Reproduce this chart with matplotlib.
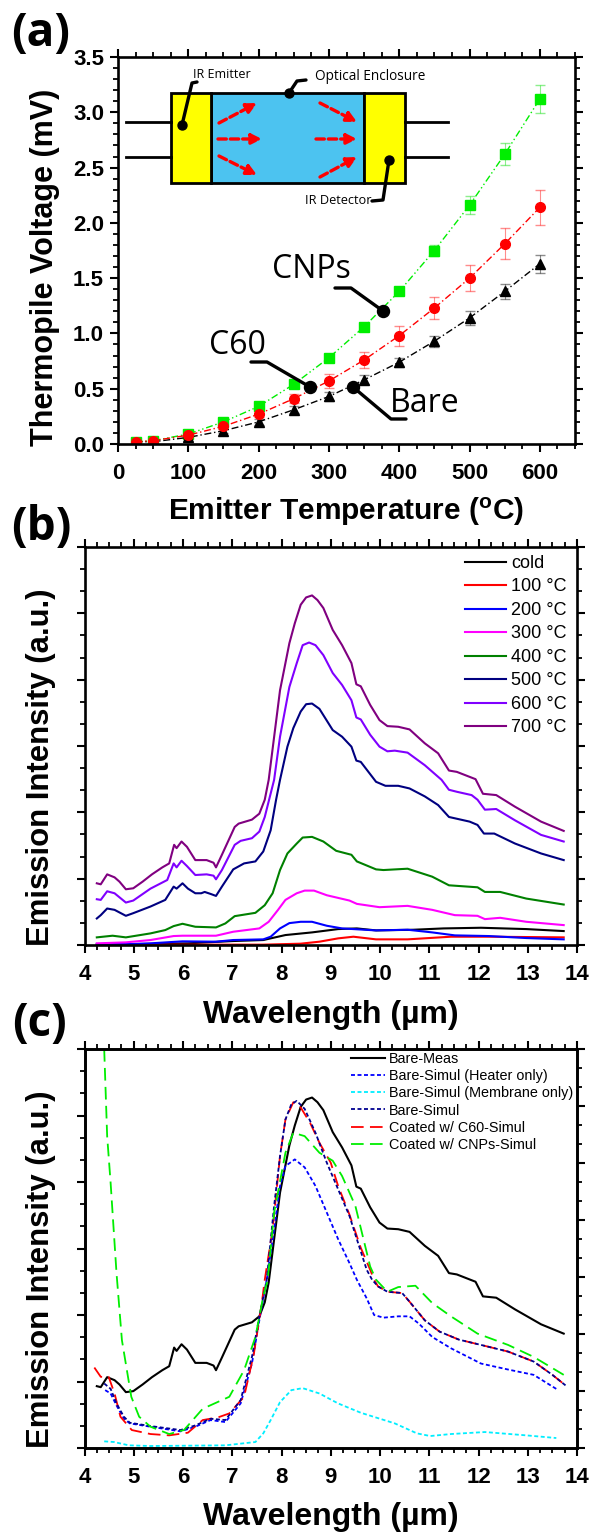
import matplotlib
matplotlib.use("Agg")
import matplotlib.pyplot as plt
from matplotlib.patches import Rectangle
from matplotlib.ticker import MultipleLocator, NullFormatter

W, H = 589, 1533
plt.rcParams["font.family"] = ["Liberation Sans", "DejaVu Sans"]

# (a) thermopile voltage
temp = [25, 50, 100, 150, 200, 250, 300, 350, 400, 450, 500, 550, 600]
bare_v = [0.02, 0.02, 0.06, 0.12, 0.20, 0.31, 0.43, 0.58, 0.74, 0.93, 1.14, 1.38, 1.63]
c60_v = [0.02, 0.03, 0.08, 0.16, 0.27, 0.41, 0.57, 0.76, 0.98, 1.23, 1.50, 1.81, 2.14]
cnp_v = [0.02, 0.03, 0.09, 0.20, 0.34, 0.54, 0.78, 1.06, 1.38, 1.75, 2.16, 2.62, 3.12]
bare_err = [0.01, 0.01, 0.01, 0.02, 0.03, 0.03, 0.04, 0.04, 0.04, 0.05, 0.06, 0.07, 0.08]
c60_err = [0.01, 0.01, 0.02, 0.02, 0.03, 0.04, 0.06, 0.07, 0.09, 0.10, 0.12, 0.14, 0.155]
cnp_err = [0.01, 0.01, 0.01, 0.02, 0.02, 0.02, 0.03, 0.03, 0.03, 0.05, 0.08, 0.10, 0.13]

# (b) emission spectra
cold_x = [4.25, 6.10, 7.02, 7.63, 8.08, 8.62, 9.15, 9.53, 9.92, 10.68, 11.29, 12.05, 12.97, 13.73]
cold_y = [0.005, 0.025, 0.06, 0.075, 0.15, 0.19, 0.24, 0.25, 0.22, 0.23, 0.25, 0.26, 0.24, 0.21]
t100_x = [4.25, 7.63, 8.39, 8.77, 9.15, 9.46, 9.92, 10.56, 11.44, 12.21, 13.73]
t100_y = [0.005, 0.005, 0.02, 0.05, 0.10, 0.125, 0.085, 0.085, 0.125, 0.125, 0.115]
t200_x = [4.25, 4.95, 5.34, 5.99, 6.67, 7.02, 7.63, 7.78, 7.97, 8.16, 8.39, 8.62, 8.92, 9.23,
          9.92, 10.56, 11.06, 11.52, 12.21, 12.97, 13.73]
t200_y = [0.015, 0.015, 0.025, 0.055, 0.05, 0.075, 0.085, 0.125, 0.25, 0.33, 0.35, 0.35, 0.29, 0.25,
          0.22, 0.23, 0.19, 0.145, 0.135, 0.105, 0.085]
t300_x = [4.25, 4.84, 5.34, 5.81, 5.99, 6.67, 7.02, 7.55, 7.74, 7.93, 8.08, 8.31, 8.47, 8.66, 8.92,
          9.38, 9.53, 9.99, 10.56, 11.06, 11.52, 11.98, 12.13, 12.44, 12.97, 13.73]
t300_y = [0.025, 0.04, 0.075, 0.135, 0.14, 0.14, 0.20, 0.25, 0.35, 0.53, 0.68, 0.78, 0.82, 0.82, 0.75,
          0.67, 0.62, 0.57, 0.59, 0.53, 0.45, 0.44, 0.39, 0.41, 0.35, 0.30]
t400_x = [4.25, 4.57, 4.84, 5.34, 5.64, 5.81, 5.99, 6.25, 6.67, 6.86, 7.05, 7.47, 7.66, 7.82, 7.97,
          8.12, 8.31, 8.43, 8.62, 8.85, 9.11, 9.42, 9.53, 9.92, 10.07, 10.56, 11.06, 11.40, 11.98,
          12.13, 12.44, 12.97, 13.73]
t400_y = [0.115, 0.14, 0.115, 0.175, 0.225, 0.285, 0.32, 0.275, 0.265, 0.325, 0.435, 0.485, 0.60, 0.78, 1.13,
          1.38, 1.53, 1.62, 1.63, 1.56, 1.42, 1.36, 1.26, 1.14, 1.13, 1.15, 1.03, 0.90, 0.87,
          0.80, 0.80, 0.70, 0.61]
t500_x = [4.25, 4.33, 4.46, 4.61, 4.84, 4.99, 5.34, 5.64, 5.81, 5.87, 5.99, 6.10, 6.25, 6.37, 6.44, 6.56,
          6.67, 6.79, 7.02, 7.24, 7.47, 7.63, 7.78, 7.89, 7.97, 8.12, 8.24, 8.39, 8.50, 8.62, 8.77, 9.04,
          9.23, 9.42, 9.52, 9.61, 9.92, 10.11, 10.37, 10.60, 10.91, 11.18, 11.40, 11.82, 11.98, 12.11,
          12.32, 12.74, 13.27, 13.73]
t500_y = [0.40, 0.45, 0.55, 0.53, 0.44, 0.48, 0.58, 0.68, 0.88, 0.85, 0.93, 0.85, 0.78, 0.78, 0.80, 0.77,
          0.74, 0.88, 1.14, 1.23, 1.26, 1.41, 1.73, 2.19, 2.49, 2.99, 3.27, 3.52, 3.63, 3.64, 3.56, 3.24,
          3.14, 2.99, 2.78, 2.76, 2.46, 2.40, 2.40, 2.36, 2.24, 2.11, 1.93, 1.86, 1.81, 1.68,
          1.68, 1.53, 1.38, 1.28]
t600_x = [4.25, 4.33, 4.46, 4.61, 4.84, 4.99, 5.34, 5.68, 5.81, 5.87, 5.97, 6.08, 6.25, 6.48, 6.62, 6.67,
          6.79, 7.05, 7.17, 7.40, 7.55, 7.66, 7.85, 7.97, 8.16, 8.31, 8.43, 8.56, 8.69, 8.85, 9.04, 9.23,
          9.42, 9.52, 9.61, 9.80, 9.99, 10.15, 10.30, 10.56, 10.91, 11.25, 11.40, 11.56, 11.86, 11.98,
          12.13, 12.36, 12.74, 13.27, 13.73]
t600_y = [0.69, 0.68, 0.81, 0.78, 0.64, 0.67, 0.85, 0.98, 1.23, 1.17, 1.27, 1.19, 1.055, 1.065, 1.045, 0.99,
          1.13, 1.51, 1.57, 1.61, 1.71, 1.93, 2.49, 3.14, 3.89, 4.25, 4.52, 4.56, 4.52, 4.37, 4.10, 3.92,
          3.69, 3.43, 3.40, 3.17, 2.99, 2.92, 2.93, 2.90, 2.71, 2.49, 2.34, 2.31, 2.26, 2.19,
          2.04, 2.05, 1.88, 1.66, 1.56]
t700_x = [4.25, 4.33, 4.46, 4.61, 4.71, 4.84, 4.99, 5.18, 5.37, 5.58, 5.72, 5.82, 5.87, 5.97, 6.08, 6.25,
          6.48, 6.62, 6.67, 6.79, 7.05, 7.13, 7.40, 7.55, 7.66, 7.74, 7.97, 8.16, 8.27, 8.39, 8.50, 8.62,
          8.73, 8.85, 9.04, 9.23, 9.42, 9.52, 9.61, 9.80, 9.99, 10.15, 10.37, 10.60, 10.91, 11.18, 11.40,
          11.56, 11.94, 12.09, 12.36, 12.74, 13.27, 13.73]
t700_y = [0.93, 0.915, 1.065, 1.02, 0.955, 0.84, 0.855, 0.955, 1.065, 1.17, 1.23, 1.51, 1.46, 1.56, 1.48, 1.28,
          1.28, 1.24, 1.17, 1.36, 1.78, 1.83, 1.89, 1.98, 2.19, 2.49, 3.84, 4.55, 4.85, 5.13, 5.24, 5.27,
          5.20, 5.08, 4.75, 4.52, 4.25, 3.93, 3.90, 3.62, 3.39, 3.30, 3.29, 3.25, 3.04, 2.89, 2.63,
          2.61, 2.50, 2.28, 2.26, 2.085, 1.86, 1.72]

# (c) simulated spectra, Bare-Meas is the 700 C curve
heater_x = [4.42, 4.53, 4.65, 4.80, 4.92, 5.34, 5.95, 6.25, 6.56, 6.86, 7.17, 7.40, 7.55, 7.70, 7.85, 7.97,
            8.08, 8.27, 8.47, 8.69, 8.92, 9.15, 9.38, 9.53, 9.73, 9.88, 10.07, 10.37, 10.60, 10.79, 11.06,
            11.44, 12.05, 12.60, 13.12, 13.62]
heater_y = [0.87, 0.82, 0.64, 0.44, 0.37, 0.32, 0.25, 0.32, 0.42, 0.39, 0.67, 1.27, 1.92, 2.53, 3.29, 3.94,
            4.24, 4.34, 4.22, 3.94, 3.54, 3.14, 2.78, 2.53, 2.25, 2.00, 1.96, 1.98, 1.98, 1.87, 1.67,
            1.50, 1.27, 1.18, 1.10, 0.87]
membrane_x = [4.40, 4.60, 4.90, 5.34, 6.86, 7.47, 7.63, 7.78, 7.97, 8.20, 8.43, 8.77, 9.15, 9.61, 10.30, 10.75,
              11.02, 11.44, 12.13, 12.97, 13.58]
membrane_y = [0.10, 0.09, 0.04, 0.03, 0.04, 0.09, 0.22, 0.42, 0.69, 0.87, 0.90, 0.82, 0.67, 0.53, 0.37, 0.22,
              0.18, 0.21, 0.24, 0.19, 0.15]
simul_x = [4.40, 4.53, 4.65, 4.80, 4.92, 5.34, 5.95, 6.25, 6.56, 6.86, 7.17, 7.40, 7.55, 7.70, 7.85, 7.97,
           8.08, 8.20, 8.31, 8.47, 8.69, 8.92, 9.15, 9.38, 9.53, 9.73, 9.84, 9.96, 10.15, 10.45, 10.60, 10.91,
           11.21, 11.60, 12.05, 12.60, 13.12, 13.50, 13.77]
simul_y = [0.97, 0.89, 0.67, 0.47, 0.38, 0.33, 0.27, 0.34, 0.44, 0.42, 0.72, 1.37, 1.97, 2.53, 3.64, 4.39,
           4.94, 5.17, 5.22, 5.10, 4.74, 4.29, 3.89, 3.49, 3.14, 2.68, 2.53, 2.43, 2.35, 2.33, 2.20, 1.92,
           1.75, 1.63, 1.55, 1.45, 1.30, 1.10, 0.94]
c60_x = [4.20, 4.33, 4.49, 4.61, 4.73, 4.96, 5.34, 5.72, 6.10, 6.40, 6.71, 6.94, 7.24, 7.44, 7.60, 7.66, 7.82,
         7.97, 8.08, 8.24, 8.39, 8.58, 8.77, 9.00, 9.15, 9.38, 9.61, 9.80, 9.88, 9.96, 10.15, 10.45, 10.60,
         10.91, 11.21, 11.60, 12.05, 12.60, 13.12, 13.50, 13.77]
c60_y = [1.21, 1.07, 1.07, 0.82, 0.47, 0.27, 0.21, 0.19, 0.23, 0.42, 0.46, 0.52, 0.77, 1.42, 2.18, 2.53, 3.29,
         4.39, 4.94, 5.20, 5.12, 4.89, 4.59, 4.29, 3.94, 3.51, 3.01, 2.68, 2.53, 2.43, 2.35, 2.33, 2.20,
         1.92, 1.75, 1.63, 1.55, 1.45, 1.30, 1.10, 0.94]
cnp_x = [4.40, 4.46, 4.53, 4.65, 4.76, 4.95, 5.11, 5.34, 5.72, 6.02, 6.40, 6.94, 7.24, 7.47, 7.63, 7.72, 7.85,
         8.08, 8.24, 8.47, 8.77, 9.04, 9.23, 9.50, 9.80, 9.92, 10.15, 10.37, 10.72, 11.06, 11.44, 11.98, 12.60,
         13.12, 13.73]
cnp_y = [6.00, 4.69, 3.99, 2.63, 1.62, 0.77, 0.47, 0.32, 0.21, 0.27, 0.59, 0.77, 1.17, 1.67, 2.28, 2.53, 3.54,
         4.44, 4.74, 4.69, 4.44, 4.32, 4.09, 3.64, 2.73, 2.53, 2.35, 2.42, 2.44, 2.18, 1.98, 1.72, 1.55,
         1.37, 1.10]


def make_axes(fig, left, right, top, bottom):
    return fig.add_axes([left / W, 1 - bottom / H, (right - left) / W, (bottom - top) / H])


def style_axes(ax):
    for s in ax.spines.values():
        s.set_linewidth(1.9)
    ax.tick_params(which="major", direction="out", length=6, width=1.5,
                   top=True, right=True, labelsize=16)
    ax.tick_params(which="minor", direction="out", length=3.5, width=1.3, top=True, right=True)
    ax.tick_params(axis="x", which="major", pad=8)
    ax.tick_params(axis="y", which="major", pad=4)
    for lab in ax.get_xticklabels() + ax.get_yticklabels():
        lab.set_fontweight("bold")


def style_spectrum(ax):
    ax.set_xlim(4, 14)
    ax.set_ylim(0, 6)
    ax.xaxis.set_major_locator(MultipleLocator(1))
    ax.xaxis.set_minor_locator(MultipleLocator(0.25))
    ax.yaxis.set_major_locator(MultipleLocator(1))
    ax.yaxis.set_minor_locator(MultipleLocator(1 / 3))
    ax.yaxis.set_major_formatter(NullFormatter())
    style_axes(ax)


fig = plt.figure(figsize=(W / 100, H / 100), dpi=100)

# panel a
ax = make_axes(fig, 118, 575, 57, 444)
ax.set_xlim(0, 650)
ax.set_ylim(0, 3.5)
ax.xaxis.set_major_locator(MultipleLocator(100))
ax.xaxis.set_minor_locator(MultipleLocator(25))
ax.yaxis.set_major_locator(MultipleLocator(0.5))
ax.yaxis.set_minor_locator(MultipleLocator(0.1))
ax.errorbar(temp, bare_v, yerr=bare_err, color="black", ls="none", capsize=3.5, elinewidth=0.8, alpha=0.45)
ax.errorbar(temp, c60_v, yerr=c60_err, color="#ff0000", ls="none", capsize=3.5, elinewidth=0.8, alpha=0.45)
ax.errorbar(temp, cnp_v, yerr=cnp_err, color="#00dd00", ls="none", capsize=3.5, elinewidth=0.8, alpha=0.45)
ax.plot(temp, cnp_v, color="#00ee00", ls=(0, (5, 2, 1, 2, 1, 2)), lw=1, marker="s", ms=6.5)
ax.plot(temp, bare_v, color="black", ls=(0, (5, 2, 1, 2)), lw=1, marker="^", ms=7)
ax.plot(temp, c60_v, color="#ff0000", ls=(0, (5, 2, 1, 2)), lw=1, marker="o", ms=7)
style_axes(ax)

# panel b
ax_b = make_axes(fig, 84.5, 577, 547, 945)
series_b = [("cold", cold_x, cold_y, "black"), ("100 °C", t100_x, t100_y, "#ff0000"),
            ("200 °C", t200_x, t200_y, "#0000ff"), ("300 °C", t300_x, t300_y, "#ff00ff"),
            ("400 °C", t400_x, t400_y, "#008000"), ("500 °C", t500_x, t500_y, "#000080"),
            ("600 °C", t600_x, t600_y, "#8000ff"), ("700 °C", t700_x, t700_y, "#800080")]
for name, xs, ys, col in series_b:
    ax_b.plot(xs, ys, color=col, lw=1.5, label=name)
style_spectrum(ax_b)
ax_b.legend(loc="upper left", bbox_to_anchor=(465 / W, 1 - 555 / H), bbox_transform=fig.transFigure,
            frameon=False, fontsize=13, handlelength=2.28, handletextpad=0.28, labelspacing=0.36,
            borderpad=0, borderaxespad=0)

# panel c
ax_c = make_axes(fig, 84.5, 577, 1049, 1448)
short = (0, (2.2, 1.4))
long_d = (0, (7, 3.5))
ax_c.plot(t700_x, t700_y, color="black", lw=1.5, label="Bare-Meas")
ax_c.plot(heater_x, heater_y, color="#0000ff", lw=1.3, ls=short, label="Bare-Simul (Heater only)")
ax_c.plot(membrane_x, membrane_y, color="#00eeff", lw=1.3, ls=short, label="Bare-Simul (Membrane only)")
ax_c.plot(c60_x, c60_y, color="#ff0000", lw=1.3, ls=long_d, label="Coated w/ C60-Simul")
ax_c.plot(simul_x, simul_y, color="#000090", lw=1.3, ls=short, label="Bare-Simul")
ax_c.plot(cnp_x, cnp_y, color="#00ee00", lw=1.3, ls=long_d, label="Coated w/ CNPs-Simul")
style_spectrum(ax_c)
ax_c.tick_params(which="both", right=False)
ax_r = ax_c.twinx()
ax_r.set_ylim(0, 7)
ax_r.yaxis.set_major_locator(MultipleLocator(1))
ax_r.yaxis.set_minor_locator(MultipleLocator(1 / 3))
ax_r.yaxis.set_major_formatter(NullFormatter())
ax_r.tick_params(which="major", direction="out", length=6, width=1.5)
ax_r.tick_params(which="minor", direction="out", length=3.5, width=1.3)
for s in ax_r.spines.values():
    s.set_linewidth(1.9)
handles, labels = ax_c.get_legend_handles_labels()
order = [0, 1, 2, 4, 3, 5]
ax_c.legend([handles[i] for i in order], [labels[i] for i in order],
            loc="upper left", bbox_to_anchor=(351 / W, 1 - 1052 / H), bbox_transform=fig.transFigure,
            frameon=False, fontsize=10.4, handlelength=2.36, handletextpad=0.28, labelspacing=0.22,
            borderpad=0, borderaxespad=0)

# overlay in image pixels for the inset sketch, callouts and labels
ov = fig.add_axes([0, 0, 1, 1], zorder=10)
ov.set_xlim(0, W)
ov.set_ylim(H, 0)
ov.axis("off")
ov.patch.set_alpha(0)

# inset sketch
for y in [122, 157]:
    ov.plot([126, 171], [y, y], color="black", lw=2)
    ov.plot([405, 448], [y, y], color="black", lw=2)
ov.add_patch(Rectangle((211, 93), 153, 90, fc="#4cc3f0", ec="black", lw=2))
ov.add_patch(Rectangle((171, 93), 40, 90, fc="#ffff00", ec="black", lw=2))
ov.add_patch(Rectangle((364, 93), 41, 90, fc="#ffff00", ec="black", lw=2))
arrows = [((219, 123), (257, 103)), ((218, 139), (262, 139)), ((219, 156), (257, 175)),
          ((320, 103), (357, 122)), ((316, 139), (357, 139)), ((320, 177), (357, 157))]
for a, b in arrows:
    ov.annotate("", xy=b, xytext=a, arrowprops=dict(arrowstyle="-|>", color="#ff0000", lw=2.4,
                                                    ls=(0, (2.5, 1.2)), mutation_scale=15,
                                                    shrinkA=0, shrinkB=0))

leaders = [([197, 192, 182], [82, 83, 125], 4.5), ([306, 297, 289], [80, 81, 93], 4.5),
           ([372, 383, 389], [201, 200, 160], 4.5), ([335, 351, 383], [288, 288, 311], 6),
           ([251, 267, 310], [362, 362, 387], 6), ([406, 391, 353], [419, 419, 387], 6)]
for xs, ys, r in leaders:
    ov.plot(xs, ys, color="black", lw=2.4, solid_capstyle="round")
    ov.plot(xs[-1], ys[-1], "o", color="black", ms=r * 2 * 0.72)

sketch_font = ["Open Sans", "DejaVu Sans"]
ov.text(222, 74, "IR Emitter", fontsize=9, family=sketch_font, ha="center", va="center")
ov.text(315, 77, "Optical Enclosure", fontsize=9.8, family=sketch_font, ha="left", va="center")
ov.text(338, 200, "IR Detector", fontsize=9.2, family=sketch_font, ha="center", va="center")
ov.text(311, 270, "CNPs", fontsize=23, family=sketch_font, ha="center", va="center")
ov.text(237, 346, "C60", fontsize=23, family=sketch_font, ha="center", va="center")
ov.text(425, 403, "Bare", fontsize=23, family=sketch_font, ha="center", va="center")

ov.text(41, 33, "(a)", fontsize=33, family=sketch_font, weight="bold", ha="center", va="center")
ov.text(41, 528, "(b)", fontsize=33, family=sketch_font, weight="bold", ha="center", va="center")
ov.text(40, 1023, "(c)", fontsize=33, family=sketch_font, weight="bold", ha="center", va="center")

ov.text(45, 267, "Thermopile Voltage (mV)", fontsize=22, weight="bold", rotation=90, ha="center", va="center")
ov.text(346, 512, "Emitter Temperature ($\\mathregular{^o}$C)", fontsize=21.5, weight="bold", ha="center", va="center")
ov.text(41, 767, "Emission Intensity (a.u.)", fontsize=22.4, weight="bold", rotation=90, ha="center", va="center")
ov.text(331, 1015, "Wavelength (µm)", fontsize=23, weight="bold", ha="center", va="center")
ov.text(41, 1269, "Emission Intensity (a.u.)", fontsize=22.4, weight="bold", rotation=90, ha="center", va="center")
ov.text(331, 1517, "Wavelength (µm)", fontsize=23, weight="bold", ha="center", va="center")

fig.savefig("out.png", dpi=100)
